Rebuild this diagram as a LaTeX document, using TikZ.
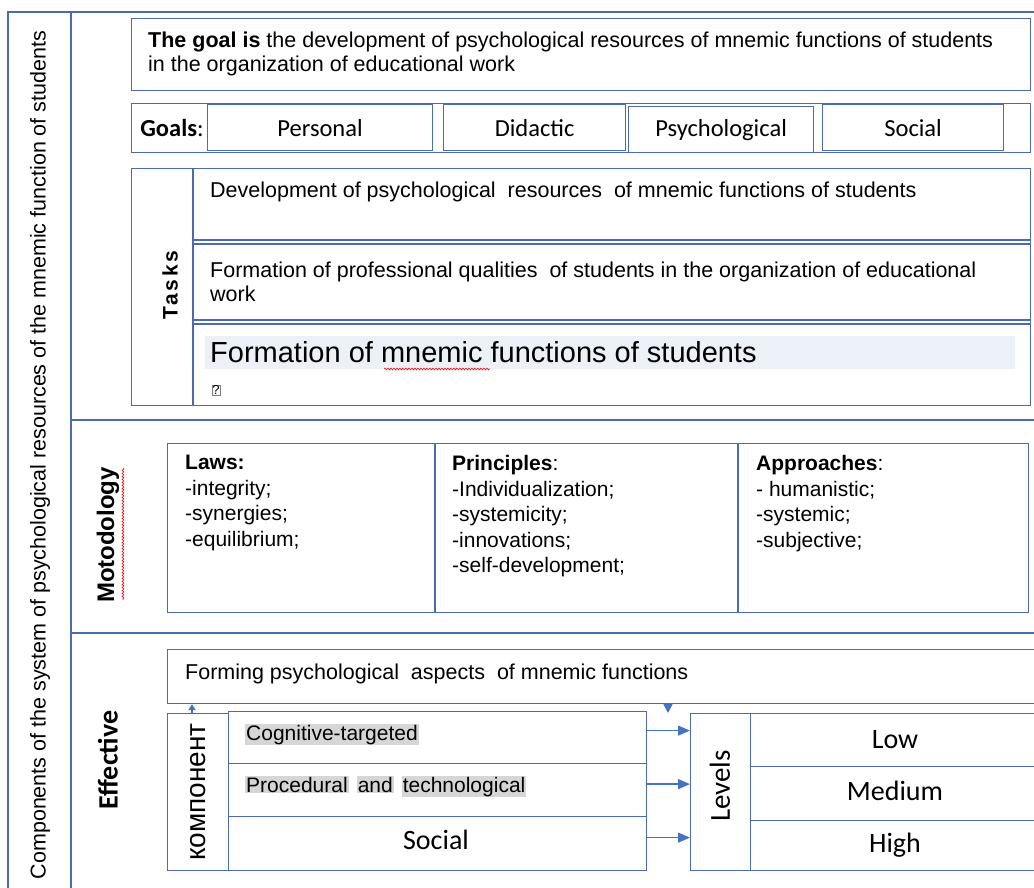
\documentclass[tikz,border=0pt]{standalone}
\usepackage{fontspec}
\setmainfont{Liberation Sans}
\newfontfamily\calibri{Carlito}
\usetikzlibrary{arrows.meta,decorations.pathmorphing}
\definecolor{frameblue}{RGB}{76,106,175}
\definecolor{arrowblue}{RGB}{68,114,196}
\definecolor{markgray}{RGB}{214,214,214}
\definecolor{markblue}{RGB}{236,241,248}
\newcommand{\hl}[1]{{\setlength{\fboxsep}{1pt}\colorbox{markgray}{#1}}}

\begin{document}
\begin{tikzpicture}[x=1pt,y=-1pt,
  frame/.style={draw=frameblue,line width=2pt},
  box/.style={draw=frameblue,line width=1.2pt,anchor=north west,inner sep=0pt},
  body/.style={anchor=base west,inner sep=0pt,font=\fontsize{21.5}{24}\selectfont},
  cal/.style={font=\calibri\fontsize{24.5}{28}\selectfont},
  big/.style={font=\calibri\fontsize{28}{32}\selectfont},
  head/.style={inner sep=0pt,rotate=90,font=\bfseries\fontsize{21}{24}\selectfont},
  conn/.style={draw=arrowblue,line width=1.3pt,-{Triangle[length=12pt,width=10pt]}},
  squiggle/.style={draw=red,line width=0.6pt,decorate,decoration={snake,amplitude=0.9pt,segment length=3pt}}]
\useasboundingbox (0,0) rectangle (1034,887);

% outer frame
\draw[frame] (8,890) -- (8,12) -- (1040,12);
\draw[frame,line width=2.6pt] (71,12) -- (71,890);
\draw[frame] (71,420) -- (1040,420);
\draw[frame] (71,633) -- (1040,633);
\node[rotate=90,inner sep=0pt,font=\fontsize{21.5}{24}\selectfont] (system) at (40,455)
  {Components of the system of psychological resources of the mnemic function of students};

% goal
\node[box,minimum width=899pt,minimum height=72pt] (goal) at (131,18) {};
\node[body] (goal1) at (148,47) {\textbf{The goal is} the development of psychological resources of mnemic functions of students};
\node[body] (goal2) at (148,71) {in the organization of educational work};

% goals row
\node[box,minimum width=899pt,minimum height=49pt] (goals) at (131,103) {};
\node[cal,inner sep=0pt] (goalslbl) at (172,128) {\textbf{Goals}:};
\node[box,cal,minimum width=225pt,minimum height=46pt] (personal) at (207,104) {Personal};
\node[box,cal,minimum width=182pt,minimum height=46pt] (didactic) at (443,104) {Didactic};
\node[box,cal,minimum width=185pt,minimum height=46pt] (psycho) at (628,106) {Psychological};
\node[box,cal,minimum width=181pt,minimum height=46pt] (social) at (822,104) {Social};

% tasks
\node[box,minimum width=899pt,minimum height=237pt] (tasks) at (131,168) {};
\draw[frame,line width=1.2pt] (193,168) -- (193,405);
\draw[frame,line width=1.2pt] (193,240) -- (1030,240);
\draw[frame,line width=1.2pt] (193,244) -- (1030,244);
\draw[frame,line width=1.2pt] (193,320) -- (1030,320);
\draw[frame,line width=1.2pt] (193,324) -- (1030,324);
\node[head,font=\bfseries\fontsize{21}{24}\selectfont\addfontfeature{LetterSpace=12}] (taskslbl) at (170,285) {Tasks};
\node[body] (task1) at (210,197) {Development of psychological\ \ resources\ \ of mnemic functions of students};
\node[body] (task2a) at (210,277) {Formation of professional qualities\ \ of students in the organization of educational};
\node[body] (task2b) at (210,301) {work};
\fill[markblue] (205,336) rectangle (1015,369);
\node[body,font=\fontsize{29}{32}\selectfont] (task3) at (210,362) {Formation of mnemic functions of students};
\draw[squiggle] (384,369) -- (490,369);
\node[draw=gray,inner sep=0.6pt,font=\fontsize{13}{14}\selectfont] (qmark) at (216,390) {?};

% methodology
\node[head,font=\bfseries\fontsize{24}{28}\selectfont] (motolbl) at (108,535) {Motodology};
\draw[squiggle] (123,468) -- (123,600);
\node[box,minimum width=861pt,minimum height=169pt] (method) at (167,443) {};
\draw[frame,line width=1.2pt] (435,443) -- (435,612);
\draw[frame,line width=1.2pt] (738,443) -- (738,612);
\node[body,font=\fontsize{21}{24}\selectfont,anchor=north west,align=left] (laws) at (185,455)
  {\textbf{Laws:}\\[1.6pt]-integrity;\\[1.6pt]-synergies;\\[1.6pt]-equilibrium;};
\node[body,font=\fontsize{21}{24}\selectfont,anchor=north west,align=left] (principles) at (452,455)
  {\textbf{Principles}:\\[1.6pt]-Individualization;\\[1.6pt]-systemicity;\\[1.6pt]-innovations;\\[1.6pt]-self-development;};
\node[body,font=\fontsize{21}{24}\selectfont,anchor=north west,align=left] (approaches) at (756,455)
  {\textbf{Approaches}:\\[1.6pt]- humanistic;\\[1.6pt]-systemic;\\[1.6pt]-subjective;};

% effective
\node[head,font=\calibri\bfseries\fontsize{28}{32}\selectfont] (efflbl) at (108,760) {Effective};
\node[box,minimum width=870pt,minimum height=54pt] (forming) at (167,649) {};
\node[body] (formtxt) at (185,679) {Forming psychological\ \ aspects\ \ of mnemic functions};

\node[box,minimum width=61pt,minimum height=157pt] (comp) at (167,713) {};
\node[rotate=90,inner sep=0pt,font=\fontsize{28}{30}\selectfont] (complbl) at (198,792) {компонент};
\node[box,minimum width=418pt,minimum height=52pt] (crow1) at (228,711) {};
\node[box,minimum width=418pt,minimum height=53pt] (crow2) at (228,763) {};
\node[box,minimum width=418pt,minimum height=54pt] (crow3) at (228,816) {};
\node[body,font=\fontsize{21}{24}\selectfont] (cog) at (245,740) {\hl{Cognitive-targeted}};
\node[body,font=\fontsize{21}{24}\selectfont] (proc) at (245,792) {\hl{Procedural}\hspace{8pt}\hl{and}\hspace{8pt}\hl{technological}};
\node[big,inner sep=0pt] (compsoc) at (436,840) {Social};

\node[box,minimum width=60pt,minimum height=157pt] (levels) at (690,713) {};
\node[rotate=90,inner sep=0pt,font=\calibri\fontsize{29}{32}\selectfont] (levlbl) at (720,786) {Levels};
\node[box,big,minimum width=300pt,minimum height=53pt] (low) at (750,713) {};
\node[box,big,minimum width=300pt,minimum height=54pt] (medium) at (750,766) {};
\node[box,big,minimum width=300pt,minimum height=50pt] (high) at (750,820) {};
\node[big,inner sep=0pt] (lowtxt) at (895,740) {Low};
\node[big,inner sep=0pt] (medtxt) at (895,791) {Medium};
\node[big,inner sep=0pt] (hightxt) at (895,845) {High};

% connectors
\draw[conn] ([yshift=7pt]crow1.east) -- ([yshift=7pt]levels.west |- crow1.east);
\draw[conn] ([yshift=6pt]crow2.east) -- ([yshift=6pt]levels.west |- crow2.east);
\draw[conn] ([yshift=6pt]crow3.east) -- ([yshift=6pt]levels.west |- crow3.east);
\coordinate (fdown) at (668,703);
\coordinate (fup) at (192,713);
\draw[conn,-{Triangle[length=9pt,width=9pt]}] (fdown) -- ++(0,10);
\draw[conn,-{Triangle[length=6pt,width=7pt]}] (fup) -- (fup |- forming.south);
\end{tikzpicture}
\end{document}
